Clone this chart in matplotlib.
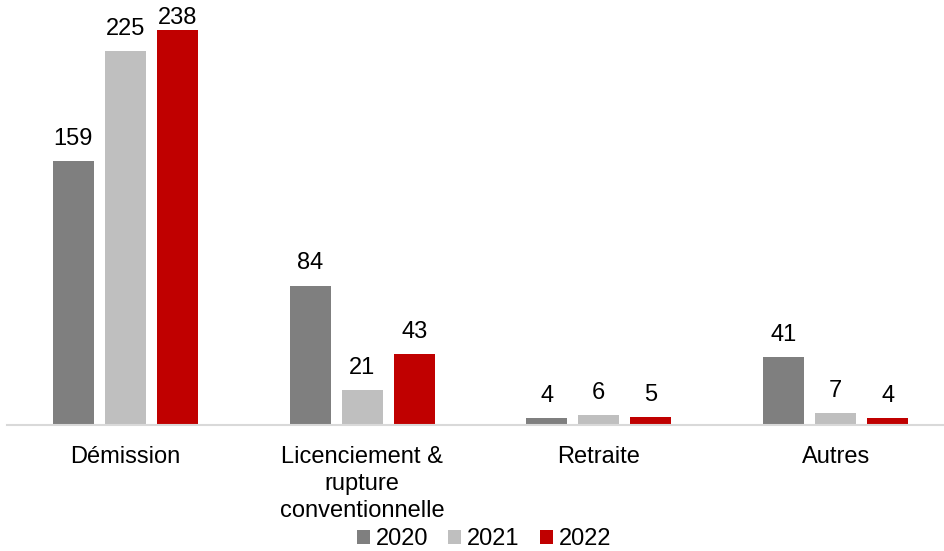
import numpy as np
import matplotlib.pyplot as plt

plt.rcParams['font.family'] = ['Liberation Sans', 'DejaVu Sans']

categories = ["Démission", "Licenciement &\nrupture\nconventionnelle", "Retraite", "Autres"]
years = ["2020", "2021", "2022"]
v2020 = [159, 84, 4, 41]
v2021 = [225, 21, 6, 7]
v2022 = [238, 43, 5, 4]
colors = ["#7f7f7f", "#bfbfbf", "#c00000"]

fig = plt.figure(figsize=(9.44, 5.51), dpi=100)
ax = fig.add_axes([7/944, 126/551, 947/944, 415/551])

x = np.arange(len(categories))
w = 0.173
off = 0.22
top = max(v2020 + v2021 + v2022)
for i, (vals, c, lab) in enumerate(zip([v2020, v2021, v2022], colors, years)):
    bars = ax.bar(x + (i - 1) * off, vals, w, color=c, label=lab, zorder=2)
    for b, v in zip(bars, vals):
        # the tallest label is pulled down so it stays inside the figure
        dy = 1 if v == top else 8
        ax.annotate(str(v), (b.get_x() + b.get_width() / 2, v),
                    xytext=(0, dy), textcoords="offset points",
                    ha="center", va="bottom", fontsize=17)

ax.set_xlim(-0.5, 3.5)
ax.set_ylim(0, 250)
ax.set_yticks([])
ax.set_xticks(x)
ax.set_xticklabels(categories, fontsize=17, linespacing=1.3, va="top")
ax.tick_params(axis="x", length=0, pad=15)
for s in ["top", "right", "left"]:
    ax.spines[s].set_visible(False)
ax.spines["bottom"].set_color("#d9d9d9")
ax.spines["bottom"].set_linewidth(1.5)

fig.legend(loc="center", bbox_to_anchor=(484/944, 1 - 539/551), ncol=3,
           frameon=False, fontsize=17, handlelength=0.55, handleheight=0.55,
           handletextpad=0.25, columnspacing=0.85, borderaxespad=0)

fig.savefig("out.png", dpi=100)
